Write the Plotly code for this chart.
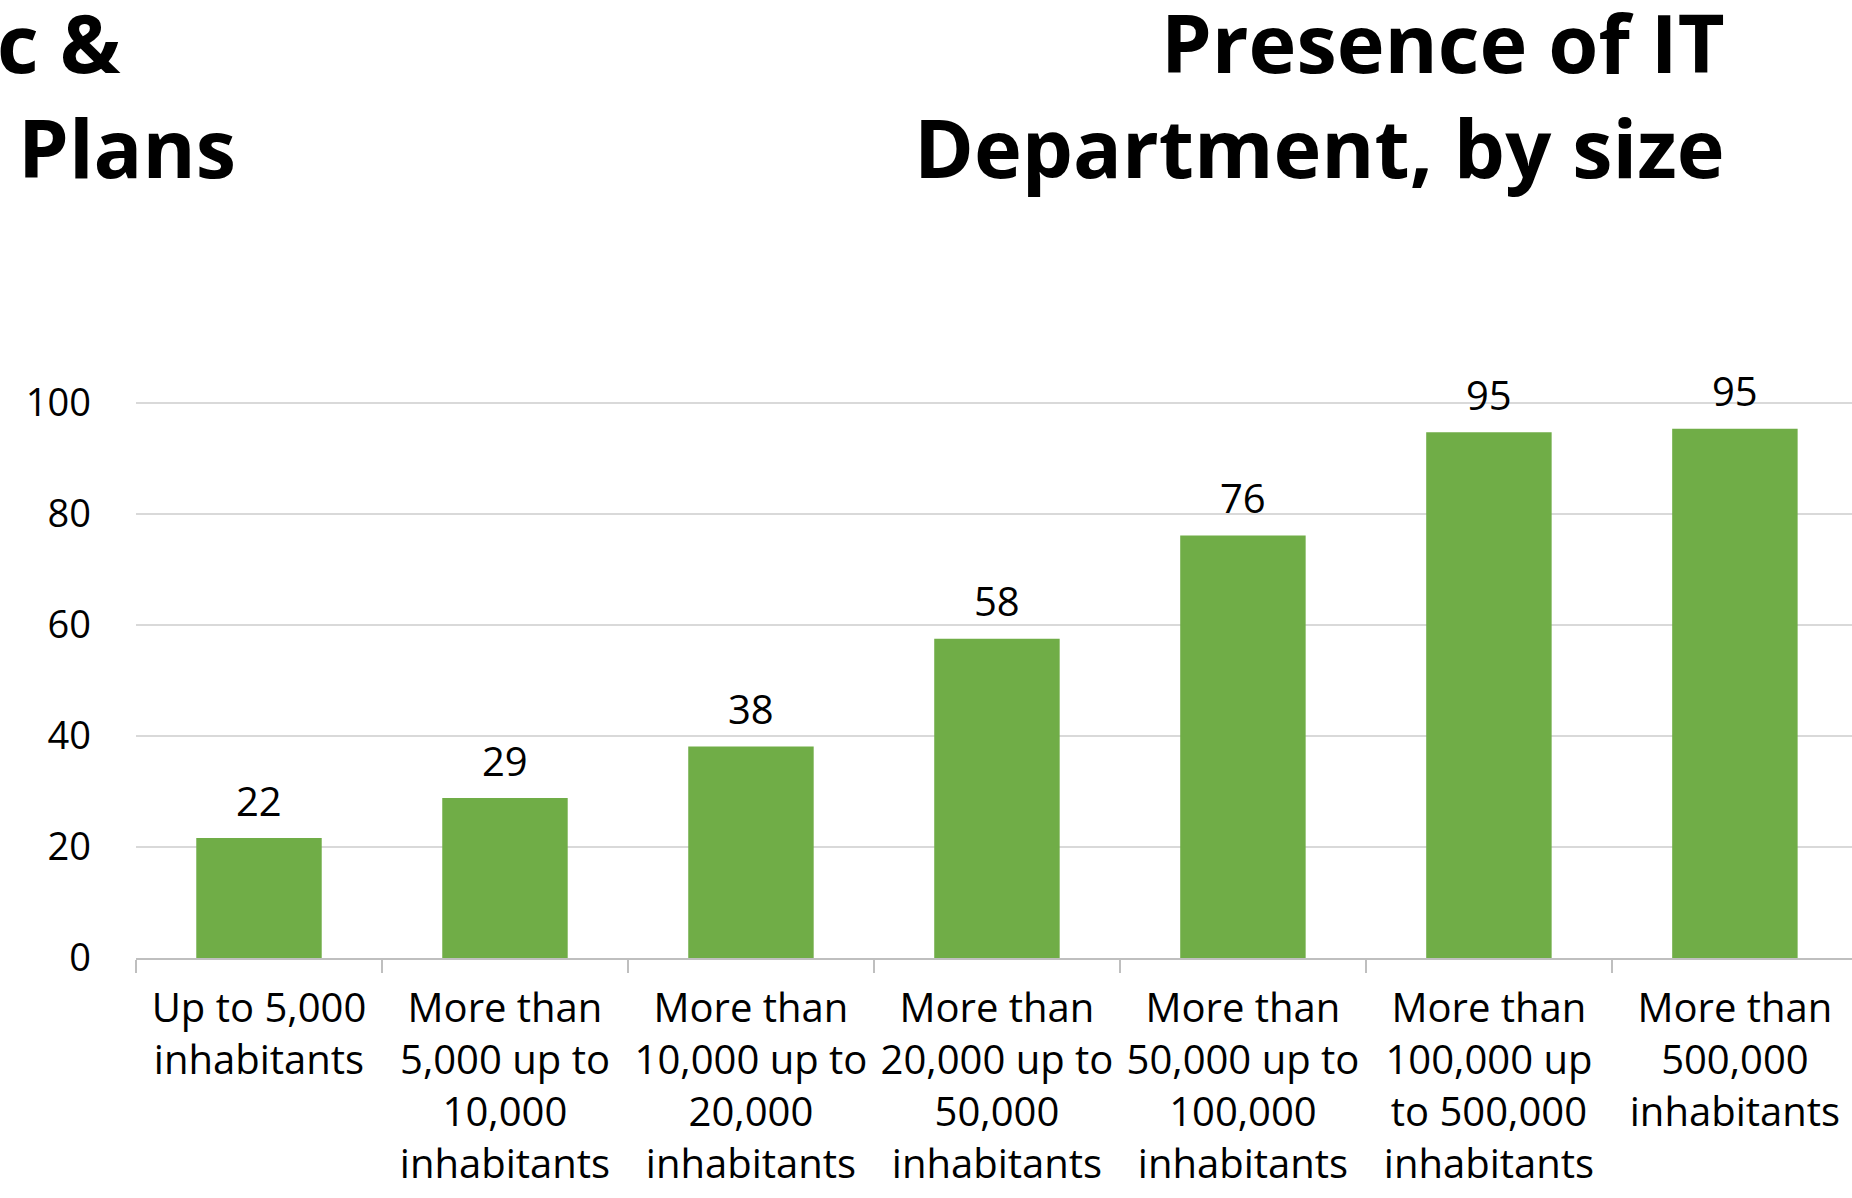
import plotly.graph_objects as go

categories = [
    "Up to 5,000<br>inhabitants",
    "More than<br>5,000 up to<br>10,000<br>inhabitants",
    "More than<br>10,000 up to<br>20,000<br>inhabitants",
    "More than<br>20,000 up to<br>50,000<br>inhabitants",
    "More than<br>50,000 up to<br>100,000<br>inhabitants",
    "More than<br>100,000 up<br>to 500,000<br>inhabitants",
    "More than<br>500,000<br>inhabitants",
]
values = [21.6, 28.8, 38.1, 57.5, 76.1, 94.7, 95.3]
labels = ["22", "29", "38", "58", "76", "95", "95"]
ytick_vals = [0, 20, 40, 60, 80, 100]
title_text = "<b>Presence of IT<br>Department, by size</b>"
left_fragment_text = "<b>c &amp;<br>\u00a0Plans</b>"

W, H = 1852, 1198
L, T, B = 136, 400, 240
plot_w = W - L
plot_h = H - T - B
FONT = "Open Sans"
GREEN = "#70AD47"


def px_x(px):
    return (px - L) / plot_w


def px_y(py):
    return (H - B - py) / plot_h


fig = go.Figure()
fig.add_trace(go.Bar(
    x=categories,
    y=values,
    marker=dict(color=GREEN, line=dict(width=0)),
    width=0.51,
    hoverinfo="skip",
))

annotations = []
for cat, v, lab in zip(categories, values, labels):
    annotations.append(dict(
        x=cat, y=v, xref="x", yref="y", text=lab, showarrow=False,
        yanchor="middle", xanchor="center", yshift=38,
        font=dict(family=FONT, size=40, color="#000000"),
    ))

title_font = dict(family=FONT, size=81, color="#000000")
annotations += [
    dict(x=px_x(1727), y=px_y(94), xref="paper", yref="paper",
         text=title_text, showarrow=False, align="right",
         xanchor="right", yanchor="middle", font=title_font),
    dict(x=px_x(-5), y=px_y(94), xref="paper", yref="paper",
         text=left_fragment_text, showarrow=False, align="left",
         xanchor="left", yanchor="middle", font=title_font),
]

fig.update_layout(
    width=W, height=H,
    margin=dict(l=L, r=0, t=T, b=B, pad=0),
    paper_bgcolor="white", plot_bgcolor="white",
    showlegend=False,
    annotations=annotations,
    xaxis=dict(
        type="category",
        range=[-0.5, 6.476],
        showline=True, linecolor="#BFBFBF", linewidth=2,
        ticks="outside", tickson="boundaries", ticklen=13,
        tickcolor="#BFBFBF", tickwidth=2,
        showgrid=False, zeroline=False,
        tickfont=dict(family=FONT, size=40, color="#000000"),
        tickangle=0, ticklabelstandoff=14,
    ),
    yaxis=dict(
        range=[0, 100.5],
        tickmode="array", tickvals=ytick_vals,
        showgrid=True, gridcolor="#D9D9D9", gridwidth=2,
        zeroline=False, showline=False,
        ticks="", ticklabelstandoff=44,
        tickfont=dict(family=FONT, size=38, color="#000000"),
    ),
)

fig.write_html("out.html", config={"displayModeBar": False},
               post_script="document.body.style.margin='0px';")
